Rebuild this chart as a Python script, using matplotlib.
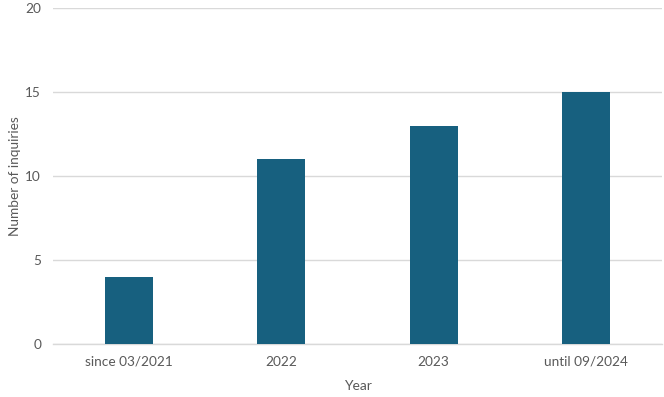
import matplotlib

matplotlib.use("Agg")
import matplotlib.pyplot as plt

categories = ["since 03/2021", "2022", "2023", "until 09/2024"]
inquiries = [4, 11, 13, 15]

BAR_COLOR = "#17607F"
TEXT_COLOR = "#595959"
GRID_COLOR = "#D9D9D9"

plt.rcParams["font.family"] = ["Lato", "DejaVu Sans"]

fig = plt.figure(figsize=(6.64, 3.97), dpi=100)
ax = fig.add_axes([0.0798, 0.1335, 0.9172, 0.8465])

x = range(len(categories))
ax.bar(x, inquiries, width=0.315, color=BAR_COLOR, zorder=3)

ax.set_xlim(-0.5, len(categories) - 0.5)
ax.set_ylim(0, 20)
ax.set_yticks([0, 5, 10, 15, 20])
ax.set_xticks(list(x))
ax.set_xticklabels(categories)

ax.grid(axis="y", color=GRID_COLOR, linewidth=1.0, zorder=0)
for side in ("top", "right", "left"):
    ax.spines[side].set_visible(False)
ax.spines["bottom"].set_color(GRID_COLOR)
ax.spines["bottom"].set_linewidth(1.0)

ax.tick_params(axis="both", length=0, colors=TEXT_COLOR, labelsize=9.8)
ax.tick_params(axis="x", pad=8.5)
ax.tick_params(axis="y", pad=8.5)

ax.set_xlabel("Year", color=TEXT_COLOR, fontsize=10)
ax.set_ylabel("Number of inquiries", color=TEXT_COLOR, fontsize=9.8)
ax.xaxis.set_label_coords(0.5, -0.108)
ax.yaxis.set_label_coords(-0.052, 0.5)

fig.savefig("out.png", dpi=100)
